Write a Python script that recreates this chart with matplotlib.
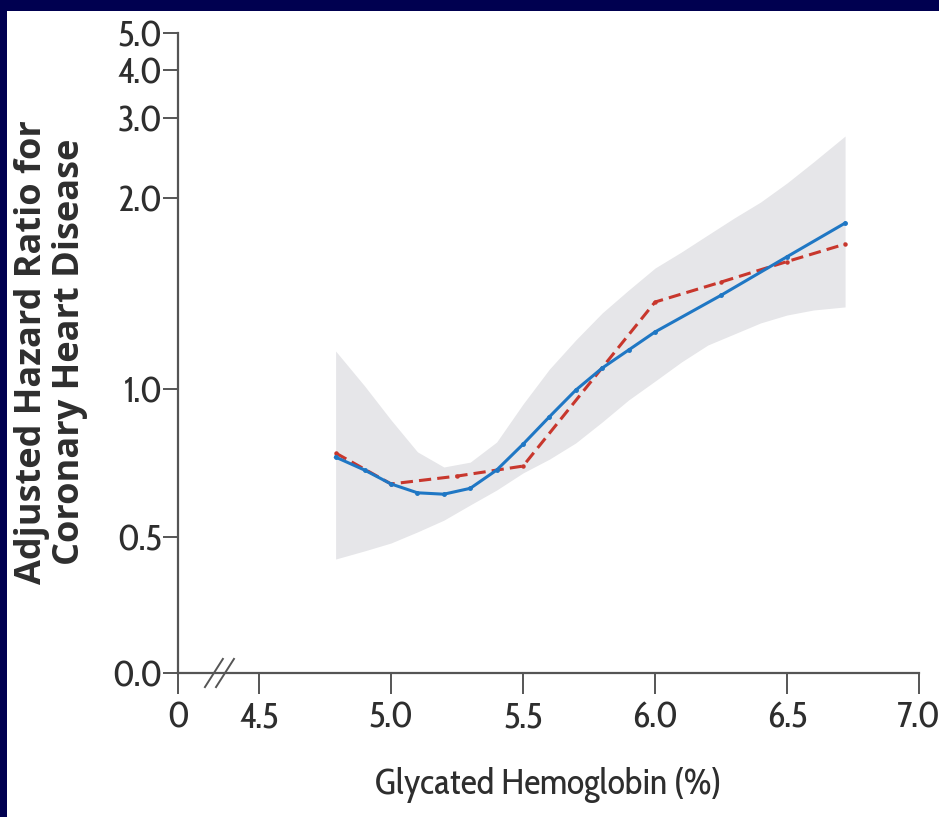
import numpy as np
import matplotlib
matplotlib.use("Agg")
import matplotlib.pyplot as plt
from matplotlib.patches import Rectangle
import matplotlib.transforms as mtransforms

# ---- data -------------------------------------------------------------
# spline estimate (solid blue)
spline_x = [4.79, 4.9, 5.0, 5.1, 5.2, 5.3, 5.4, 5.5, 5.6, 5.7, 5.8, 5.9, 6.0, 6.25, 6.5, 6.72]
spline_hr = [0.727, 0.684, 0.641, 0.615, 0.611, 0.628, 0.684, 0.772, 0.878, 0.995,
             1.079, 1.152, 1.230, 1.405, 1.616, 1.826]

# category estimate (dashed red)
cat_x = [4.79, 5.0, 5.25, 5.5, 6.0, 6.25, 6.5, 6.72]
cat_hr = [0.741, 0.641, 0.665, 0.697, 1.371, 1.474, 1.588, 1.692]

# 95% confidence band of the spline
band_x = [4.79, 4.9, 5.0, 5.1, 5.2, 5.3, 5.4, 5.5, 5.6, 5.7, 5.8, 5.9, 6.0,
          6.1, 6.2, 6.3, 6.4, 6.5, 6.6, 6.72]
band_lo = [0.419, 0.449, 0.478, 0.512, 0.541, 0.581, 0.623, 0.675, 0.720, 0.777,
           0.857, 0.950, 1.029, 1.103, 1.173, 1.221, 1.271, 1.308, 1.332, 1.347]
band_hi = [1.148, 1.011, 0.865, 0.745, 0.694, 0.710, 0.780, 0.932, 1.075, 1.195,
           1.318, 1.432, 1.551, 1.644, 1.749, 1.860, 1.971, 2.158, 2.400, 2.738]

y_ticks = [0.0, 0.5, 1.0, 2.0, 3.0, 4.0, 5.0]
y_tick_labels = ["0.0", "0.5", "1.0", "2.0", "3.0", "4.0", "5.0"]
x_ticks = [4.5, 5.0, 5.5, 6.0, 6.5, 7.0]
x_tick_labels = ["4.5", "5.0", "5.5", "6.0", "6.5", "7.0"]
x_origin_label = "0"

# ---- vertical scale: log-type axis with a broken origin ---------------
SCALE_VALS = np.array([0.5, 1.0, 2.0, 3.0, 4.0, 5.0, 50.0])
SCALE_POS = np.array([136.0, 284.0, 475.0, 555.0, 603.0, 640.0, 640.0 + 166.0 * np.log(10.0)])
SCALE_LOG = np.log(SCALE_VALS)


def fwd(v):
    v = np.asarray(v, dtype=float)
    lin = v / SCALE_VALS[0] * SCALE_POS[0]
    lg = np.interp(np.log(np.maximum(v, SCALE_VALS[0])), SCALE_LOG, SCALE_POS)
    return np.where(v < SCALE_VALS[0], lin, lg)


def inv(p):
    p = np.asarray(p, dtype=float)
    lin = p / SCALE_POS[0] * SCALE_VALS[0]
    lg = np.exp(np.interp(np.maximum(p, SCALE_POS[0]), SCALE_POS, SCALE_LOG))
    return np.where(p < SCALE_POS[0], lin, lg)


# ---- figure -----------------------------------------------------------
NAVY = "#000050"
BLUE = "#1f77c4"
RED = "#c8372d"
BAND = "#e6e6e9"
AXIS = "#555555"
TEXT = "#2e2e2e"

narrow = ["Cabin Condensed", "Archivo Narrow", "DejaVu Sans"]
bold_sans = ["Open Sans", "DejaVu Sans"]

fig = plt.figure(figsize=(9.39, 8.17), dpi=100)
fig.patch.set_facecolor(NAVY)
fig.add_artist(Rectangle((7 / 939, 0), 1, 1 - 11 / 817, transform=fig.transFigure,
                         facecolor="white", edgecolor="none", zorder=0))

ax = fig.add_axes([178 / 939, 144 / 817, (919 - 178) / 939, (673 - 33) / 817])
ax.set_facecolor("none")
ax.set_yscale("function", functions=(fwd, inv))

x_origin = 4.5 - 0.307
ax.set_xlim(x_origin, 7.0)
ax.set_ylim(0.0, 5.0)

ax.fill_between(band_x, band_lo, band_hi, color=BAND, lw=0, zorder=1)
ax.plot(cat_x, cat_hr, color=RED, lw=2.2, ls=(0, (4, 2)), marker="o", ms=2.2,
        zorder=3)
ax.plot(spline_x, spline_hr, color=BLUE, lw=2.2, marker="o", ms=2.5, zorder=4)

for side in ("top", "right"):
    ax.spines[side].set_visible(False)
for side in ("left", "bottom"):
    ax.spines[side].set_color(AXIS)
    ax.spines[side].set_linewidth(1.6)

ax.set_yticks(y_ticks)
ax.set_yticklabels(y_tick_labels)
ax.yaxis.set_minor_locator(matplotlib.ticker.NullLocator())
ax.set_xticks([x_origin] + x_ticks)
ax.set_xticklabels([x_origin_label] + x_tick_labels)

ax.tick_params(axis="y", direction="out", length=10.5, width=1.4, color=AXIS,
               pad=1, labelsize=26, labelcolor=TEXT)
ax.tick_params(axis="x", direction="out", length=15, width=1.4, color=AXIS,
               pad=5, labelsize=26, labelcolor=TEXT)
for lab in ax.get_xticklabels() + ax.get_yticklabels():
    lab.set_family(narrow)

# axis break marks on the horizontal axis
brk = mtransforms.blended_transform_factory(ax.transData, ax.transAxes)
for cx in (4.329, 4.371):
    ax.plot([cx - 0.034, cx + 0.034], [-0.022, 0.022], color=AXIS, lw=1.4,
            transform=brk, clip_on=False, zorder=5)

fig.text(548.5 / 939, 1 - 785 / 817, "Glycated Hemoglobin (%)", ha="center",
         va="center", fontsize=26, color=TEXT, family=narrow)
fig.text(51 / 939, 1 - 352 / 817,
         "Adjusted Hazard Ratio for\nCoronary Heart Disease",
         rotation=90, ha="center", va="center", multialignment="center",
         fontsize=26, fontweight="bold", color=TEXT, linespacing=1.06,
         family=bold_sans)

fig.savefig("out.png", dpi=100, facecolor=fig.get_facecolor())
